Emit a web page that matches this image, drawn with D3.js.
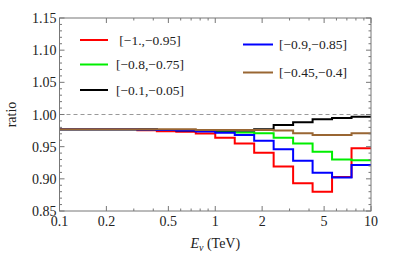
<!DOCTYPE html>
<html><head><meta charset="utf-8">
<script src="https://cdn.jsdelivr.net/npm/d3@7"></script>
<style>body{margin:0;background:#fff}svg{display:block}</style>
</head><body><svg id="c" width="415" height="260" font-family="'Liberation Serif', 'Times New Roman', Times, 'DejaVu Serif', serif"></svg>
<script>
const binEdges = [0.1,0.1334,0.1778,0.2371,0.3162,0.4217,0.5623,0.7499,1,1.334,1.778,2.371,3.162,4.217,5.623,7.499,10];
const seriesNames = ["[\u22121.,\u22120.95]","[\u22120.8,\u22120.75]","[\u22120.1,\u22120.05]","[\u22120.9,\u22120.85]","[\u22120.45,\u22120.4]"];
const redVals   = [0.977,0.977,0.977,0.977,0.9755,0.974,0.973,0.9705,0.964,0.955,0.9405,0.919,0.893,0.880,0.903,0.9475];
const greenVals = [0.977,0.977,0.977,0.977,0.977,0.976,0.976,0.975,0.974,0.972,0.971,0.964,0.955,0.942,0.930,0.929];
const blackVals = [0.977,0.977,0.977,0.977,0.977,0.976,0.975,0.975,0.975,0.975,0.977,0.9835,0.988,0.9925,0.9945,0.9965];
const blueVals  = [0.977,0.977,0.977,0.977,0.9765,0.976,0.975,0.9735,0.9717,0.968,0.9593,0.946,0.928,0.9095,0.902,0.9215];
const brownVals = [0.977,0.977,0.977,0.977,0.977,0.977,0.977,0.976,0.976,0.976,0.976,0.975,0.971,0.968,0.968,0.971];
const xTickVals = [0.1,0.2,0.5,1,2,5,10];
const xTickLabels = ["0.1","0.2","0.5","1","2","5","10"];
const yTickVals = [0.85,0.90,0.95,1.00,1.05,1.10,1.15];
const yTickLabels = ["0.85","0.90","0.95","1.00","1.05","1.10","1.15"];
const refLine = 1.0;

const colors = ["#ff0000","#00ee00","#000000","#0000ff","#996633"];
const allVals = [redVals,greenVals,blackVals,blueVals,brownVals];

const svg = d3.select("#c");
const L=59.5, R=371, T=18, B=211;
const x = d3.scaleLog().domain([0.1,10]).range([L,R]);
const y = d3.scaleLinear().domain([0.85,1.15]).range([B,T]);
const frameCol = "#777";

svg.append("line").attr("x1",L).attr("x2",R).attr("y1",y(refLine)).attr("y2",y(refLine))
  .attr("stroke","#999").attr("stroke-width",1.1).attr("stroke-dasharray","4,3");

const line = d3.line().x(d=>x(d[0])).y(d=>y(d[1])).curve(d3.curveStepAfter);
allVals.forEach((vals,i)=>{
  const pts = binEdges.map((e,j)=>[e, vals[Math.min(j,vals.length-1)]]);
  svg.append("path").attr("d",line(pts)).attr("fill","none")
    .attr("stroke",colors[i]).attr("stroke-width",2);
});

svg.append("rect").attr("x",L).attr("y",T).attr("width",R-L).attr("height",B-T)
  .attr("fill","none").attr("stroke",frameCol).attr("stroke-width",1);

const xMinor = [];
[0.1,1].forEach(d=>{for(let k=2;k<=9;k++){xMinor.push(d*k);}});
const xMajor = xTickVals;
function xt(v,len){
  svg.append("line").attr("x1",x(v)).attr("x2",x(v)).attr("y1",B).attr("y2",B-len).attr("stroke",frameCol);
  svg.append("line").attr("x1",x(v)).attr("x2",x(v)).attr("y1",T).attr("y2",T+len).attr("stroke",frameCol);
}
xMinor.forEach(v=>{ if(!xMajor.includes(+v.toFixed(4))) xt(v,2.5); });
xMajor.forEach(v=>xt(v,5));
xTickVals.forEach((v,i)=>{
  svg.append("text").attr("x",x(v)).attr("y",B+15).attr("text-anchor","middle")
    .attr("font-size",14).attr("fill","#222").text(xTickLabels[i]);
});

function yt(v,len){
  svg.append("line").attr("x1",L).attr("x2",L+len).attr("y1",y(v)).attr("y2",y(v)).attr("stroke",frameCol);
  svg.append("line").attr("x1",R).attr("x2",R-len).attr("y1",y(v)).attr("y2",y(v)).attr("stroke",frameCol);
}
for(let k=0;k<=30;k++){ const v=0.85+k*0.01; if(k%5!==0) yt(v,2.5); }
yTickVals.forEach(v=>yt(v,5));
yTickVals.forEach((v,i)=>{
  svg.append("text").attr("x",L-3).attr("y",y(v)+5).attr("text-anchor","end")
    .attr("font-size",14).attr("fill","#222").text(yTickLabels[i]);
});

svg.append("text").attr("transform",`translate(16,${(T+B)/2}) rotate(-90)`).attr("text-anchor","middle")
  .attr("font-size",14).attr("fill","#222").text("ratio");
const xt2 = svg.append("text").attr("x",(L+R)/2).attr("y",248).attr("text-anchor","middle")
  .attr("font-size",14).attr("fill","#222");
xt2.append("tspan").attr("font-style","italic").text("E");
xt2.append("tspan").attr("font-style","italic").attr("font-size",10).attr("dy",3).text("\u03bd");
xt2.append("tspan").attr("dy",-3).text(" (TeV)");

const legPos = [[80,108,150,40],[80,108,150,64.5],[80,108,150,90],[243,273,313,44.5],[243,273,313,72.5]];
seriesNames.forEach((n,i)=>{
  const p=legPos[i];
  svg.append("line").attr("x1",p[0]).attr("x2",p[1]).attr("y1",p[3]).attr("y2",p[3])
    .attr("stroke",colors[i]).attr("stroke-width",2);
  svg.append("text").attr("x",p[2]).attr("y",p[3]+4.5).attr("text-anchor","middle")
    .attr("font-size",13.5).attr("fill","#222").text(n);
});
</script></body></html>
